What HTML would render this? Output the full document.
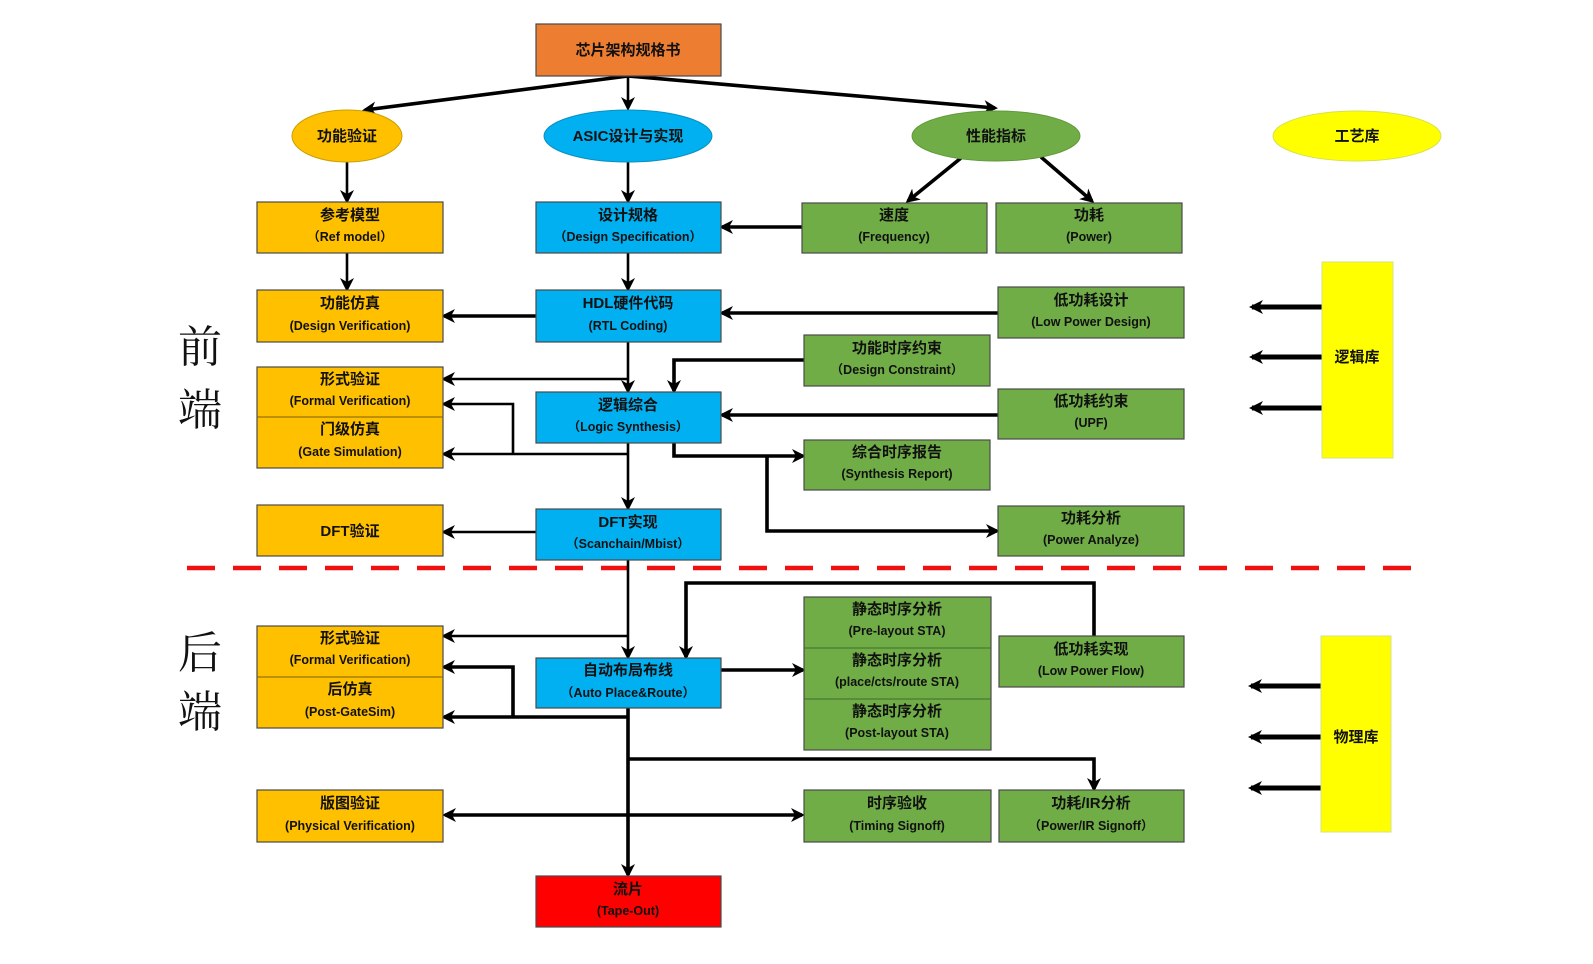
<!DOCTYPE html>
<html><head><meta charset="utf-8"><style>
html,body{margin:0;padding:0;background:#fff;}
svg{display:block;}
.t{font-family:"Liberation Sans","Noto Sans CJK SC",sans-serif;font-weight:bold;fill:#111;text-anchor:middle;}
.c{font-size:15px;}
.e{font-size:12.5px;}
.ln{stroke:#000;stroke-width:2.6;fill:none;}
.thk{stroke:#000;stroke-width:3.6;fill:none;}
.bx{stroke:#4a4a4a;stroke-width:1.2;}
</style></head><body>
<svg width="1593" height="964" viewBox="0 0 1593 964" xmlns="http://www.w3.org/2000/svg">
<defs>
<marker id="a" markerWidth="10" markerHeight="10" refX="8" refY="5" orient="auto" markerUnits="userSpaceOnUse" viewBox="0 0 10 10">
<path d="M0,0 L10,5 L0,10 L3,5 z" fill="#000"/></marker>
<marker id="as" markerWidth="14" markerHeight="14" refX="11" refY="7" orient="auto-start-reverse" markerUnits="userSpaceOnUse" viewBox="0 0 14 14">
<path d="M0,0 L14,7 L0,14 L4,7 z" fill="#000"/></marker>
</defs>

<!-- dashed separator -->
<line x1="187" y1="568" x2="1424" y2="568" stroke="#f01010" stroke-width="4.5" stroke-dasharray="28,18"/>

<!-- side labels -->
<g font-family="'Liberation Serif','Noto Serif CJK SC',serif" font-size="44" fill="#111">
<text x="178" y="362">前</text><text x="178" y="425">端</text>
<text x="178" y="668">后</text><text x="178" y="727">端</text>
</g>

<!-- connectors -->
<g class="ln">
<line x1="628" y1="76" x2="365" y2="110" marker-end="url(#as)" class="thk"/>
<line x1="628" y1="76" x2="628" y2="108" marker-end="url(#as)"/>
<line x1="628" y1="76" x2="995" y2="108" marker-end="url(#as)" class="thk"/>
<line x1="347" y1="162" x2="347" y2="201" marker-end="url(#as)"/>
<line x1="347" y1="253" x2="347" y2="289" marker-end="url(#as)"/>
<line x1="628" y1="162" x2="628" y2="201" marker-end="url(#as)"/>
<line x1="628" y1="253" x2="628" y2="289" marker-end="url(#as)"/>
<line x1="802" y1="227" x2="722" y2="227" marker-end="url(#as)" class="thk"/>
<line x1="961" y1="158" x2="908" y2="201" marker-end="url(#as)" class="thk"/>
<line x1="1041" y1="157" x2="1092" y2="201" marker-end="url(#as)" class="thk"/>
<line x1="536" y1="316" x2="444" y2="316" marker-end="url(#as)" class="thk"/>
<line x1="998" y1="313" x2="722" y2="313" marker-end="url(#as)" class="thk"/>
<line x1="628" y1="342" x2="628" y2="391" marker-end="url(#as)"/>
<line x1="628" y1="379" x2="444" y2="379" marker-end="url(#as)"/>
<polyline points="804,360 674,360 674,391" marker-end="url(#as)" class="thk"/>
<line x1="998" y1="415" x2="722" y2="415" marker-end="url(#as)" class="thk"/>
<line x1="628" y1="443" x2="628" y2="508" marker-end="url(#as)"/>
<line x1="628" y1="454" x2="444" y2="454" marker-end="url(#as)"/>
<polyline points="513,454 513,404 444,404" marker-end="url(#as)"/>
<polyline points="674,443 674,456 803,456" marker-end="url(#as)" class="thk"/>
<polyline points="767,456 767,531 997,531" marker-end="url(#as)" class="thk"/>
<line x1="536" y1="532" x2="444" y2="532" marker-end="url(#as)"/>
<line x1="628" y1="560" x2="628" y2="657" marker-end="url(#as)"/>
<line x1="628" y1="636" x2="444" y2="636" marker-end="url(#as)"/>
<polyline points="1094,636 1094,583 686,583 686,657" marker-end="url(#as)" class="thk"/>
<line x1="721" y1="670" x2="803" y2="670" marker-end="url(#as)" class="thk"/>
<line x1="628" y1="708" x2="628" y2="875" marker-end="url(#as)" class="thk"/>
<line x1="628" y1="717" x2="444" y2="717" marker-end="url(#as)" class="thk"/>
<polyline points="513,717 513,667 444,667" marker-end="url(#as)" class="thk"/>
<polyline points="628,759 1094,759 1094,789" marker-end="url(#as)" class="thk"/>
<line x1="445" y1="815" x2="802" y2="815" marker-start="url(#as)" marker-end="url(#as)" class="thk"/>
<g class="thk" style="stroke-width:5">
<line x1="1322" y1="307" x2="1252" y2="307" marker-end="url(#as)"/>
<line x1="1322" y1="357" x2="1252" y2="357" marker-end="url(#as)"/>
<line x1="1322" y1="408" x2="1252" y2="408" marker-end="url(#as)"/>
<line x1="1321" y1="686" x2="1251" y2="686" marker-end="url(#as)"/>
<line x1="1321" y1="737" x2="1251" y2="737" marker-end="url(#as)"/>
<line x1="1321" y1="788" x2="1251" y2="788" marker-end="url(#as)"/>
</g>
</g>

<!-- nodes -->
<rect class="bx" x="536" y="24" width="185" height="52" fill="#ED7D31"/>
<text class="t c" x="628" y="55">芯片架构规格书</text>

<ellipse cx="347" cy="136" rx="55" ry="26" fill="#FFC000" stroke="#c9a000"/>
<text class="t c" x="347" y="141">功能验证</text>
<ellipse cx="628" cy="136" rx="84" ry="26" fill="#00B0F0" stroke="#0a8fc0"/>
<text class="t c" x="628" y="141">ASIC设计与实现</text>
<ellipse cx="996" cy="136" rx="84" ry="25" fill="#70AD47" stroke="#5e9a3a"/>
<text class="t c" x="996" y="141">性能指标</text>
<ellipse cx="1357" cy="136" rx="84" ry="25" fill="#FFFF00" stroke="#d8e050"/>
<text class="t c" x="1357" y="141">工艺库</text>

<g>
<!-- orange left column -->
<rect class="bx" x="257" y="202" width="186" height="51" fill="#FFC000"/>
<text class="t c" x="350" y="220">参考模型</text><text class="t e" x="350" y="241">（Ref model）</text>
<rect class="bx" x="257" y="290" width="186" height="52" fill="#FFC000"/>
<text class="t c" x="350" y="308">功能仿真</text><text class="t e" x="350" y="330">(Design Verification)</text>
<rect class="bx" x="257" y="367" width="186" height="101" fill="#FFC000"/>
<line x1="257" y1="417" x2="443" y2="417" stroke="#7a6000" stroke-width="1"/>
<text class="t c" x="350" y="384">形式验证</text><text class="t e" x="350" y="405">(Formal Verification)</text>
<text class="t c" x="350" y="434">门级仿真</text><text class="t e" x="350" y="456">(Gate Simulation)</text>
<rect class="bx" x="257" y="505" width="186" height="51" fill="#FFC000"/>
<text class="t c" x="350" y="536">DFT验证</text>
<rect class="bx" x="257" y="626" width="186" height="102" fill="#FFC000"/>
<line x1="257" y1="677" x2="443" y2="677" stroke="#7a6000" stroke-width="1"/>
<text class="t c" x="350" y="643">形式验证</text><text class="t e" x="350" y="664">(Formal Verification)</text>
<text class="t c" x="350" y="694">后仿真</text><text class="t e" x="350" y="716">(Post-GateSim)</text>
<rect class="bx" x="257" y="790" width="186" height="52" fill="#FFC000"/>
<text class="t c" x="350" y="808">版图验证</text><text class="t e" x="350" y="830">(Physical Verification)</text>

<!-- blue column -->
<rect class="bx" x="536" y="202" width="185" height="51" fill="#00B0F0"/>
<text class="t c" x="628" y="220">设计规格</text><text class="t e" x="628" y="241">（Design Specification）</text>
<rect class="bx" x="536" y="290" width="185" height="52" fill="#00B0F0"/>
<text class="t c" x="628" y="308">HDL硬件代码</text><text class="t e" x="628" y="330">(RTL Coding)</text>
<rect class="bx" x="536" y="392" width="185" height="51" fill="#00B0F0"/>
<text class="t c" x="628" y="410">逻辑综合</text><text class="t e" x="628" y="431">（Logic Synthesis）</text>
<rect class="bx" x="536" y="509" width="185" height="51" fill="#00B0F0"/>
<text class="t c" x="628" y="527">DFT实现</text><text class="t e" x="628" y="548">（Scanchain/Mbist）</text>
<rect class="bx" x="536" y="658" width="185" height="50" fill="#00B0F0"/>
<text class="t c" x="628" y="675">自动布局布线</text><text class="t e" x="628" y="697">（Auto Place&amp;Route）</text>
<rect class="bx" x="536" y="876" width="185" height="51" fill="#FF0000"/>
<text class="t c" x="628" y="894">流片</text><text class="t e" x="628" y="915">(Tape-Out)</text>

<!-- green -->
<rect class="bx" x="802" y="203" width="185" height="50" fill="#70AD47"/>
<text class="t c" x="894" y="220">速度</text><text class="t e" x="894" y="241">(Frequency)</text>
<rect class="bx" x="996" y="203" width="186" height="50" fill="#70AD47"/>
<text class="t c" x="1089" y="220">功耗</text><text class="t e" x="1089" y="241">(Power)</text>
<rect class="bx" x="998" y="287" width="186" height="51" fill="#70AD47"/>
<text class="t c" x="1091" y="305">低功耗设计</text><text class="t e" x="1091" y="326">(Low Power Design)</text>
<rect class="bx" x="804" y="335" width="186" height="51" fill="#70AD47"/>
<text class="t c" x="897" y="353">功能时序约束</text><text class="t e" x="897" y="374">（Design Constraint）</text>
<rect class="bx" x="998" y="389" width="186" height="50" fill="#70AD47"/>
<text class="t c" x="1091" y="406">低功耗约束</text><text class="t e" x="1091" y="427">(UPF)</text>
<rect class="bx" x="804" y="440" width="186" height="50" fill="#70AD47"/>
<text class="t c" x="897" y="457">综合时序报告</text><text class="t e" x="897" y="478">(Synthesis Report)</text>
<rect class="bx" x="998" y="506" width="186" height="50" fill="#70AD47"/>
<text class="t c" x="1091" y="523">功耗分析</text><text class="t e" x="1091" y="544">(Power Analyze)</text>

<rect class="bx" x="804" y="597" width="187" height="153" fill="#70AD47"/>
<line x1="804" y1="648" x2="991" y2="648" stroke="#3e6a28" stroke-width="1"/>
<line x1="804" y1="699" x2="991" y2="699" stroke="#3e6a28" stroke-width="1"/>
<text class="t c" x="897" y="614">静态时序分析</text><text class="t e" x="897" y="635">(Pre-layout STA)</text>
<text class="t c" x="897" y="665">静态时序分析</text><text class="t e" x="897" y="686">(place/cts/route STA)</text>
<text class="t c" x="897" y="716">静态时序分析</text><text class="t e" x="897" y="737">(Post-layout STA)</text>
<rect class="bx" x="999" y="636" width="185" height="51" fill="#70AD47"/>
<text class="t c" x="1091" y="654">低功耗实现</text><text class="t e" x="1091" y="675">(Low Power Flow)</text>
<rect class="bx" x="804" y="790" width="187" height="52" fill="#70AD47"/>
<text class="t c" x="897" y="808">时序验收</text><text class="t e" x="897" y="830">(Timing Signoff)</text>
<rect class="bx" x="999" y="790" width="185" height="52" fill="#70AD47"/>
<text class="t c" x="1091" y="808">功耗/IR分析</text><text class="t e" x="1091" y="830">（Power/IR Signoff）</text>

<!-- libraries -->
<rect x="1322" y="262" width="71" height="196" fill="#FFFF00" stroke="#d8e080" stroke-width="1"/>
<text class="t c" x="1357" y="362">逻辑库</text>
<rect x="1321" y="636" width="70" height="196" fill="#FFFF00" stroke="#d8e080" stroke-width="1"/>
<text class="t c" x="1356" y="742">物理库</text>
</g>
</svg>
</body></html>
